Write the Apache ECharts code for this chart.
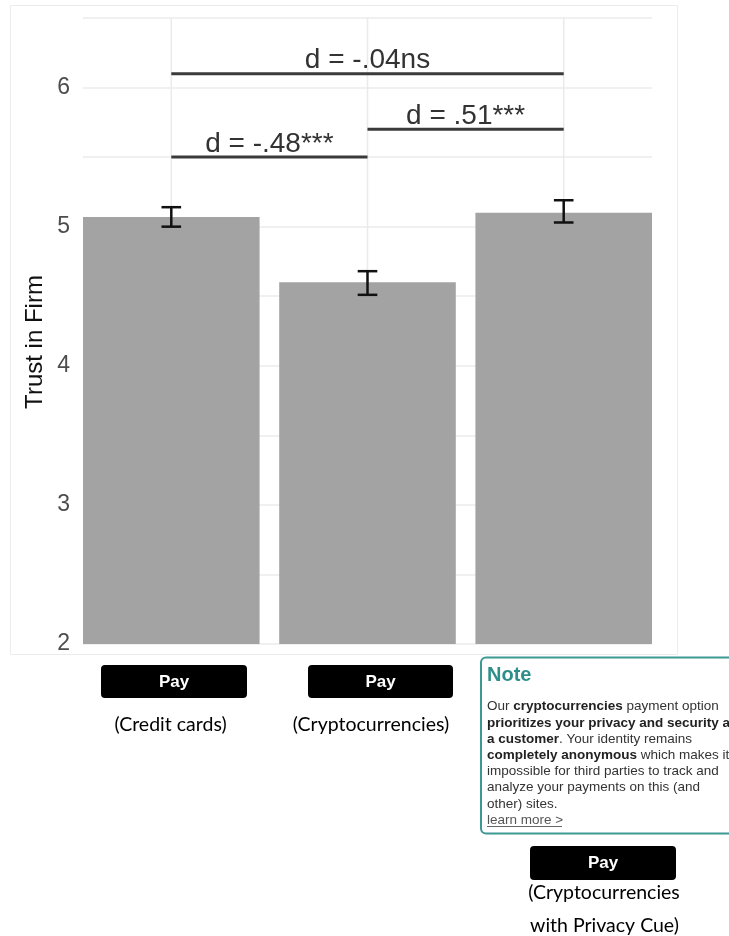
<!DOCTYPE html>
<html>
<head>
<meta charset="utf-8">
<script src="https://cdn.jsdelivr.net/npm/echarts@6/dist/echarts.min.js"></script>
<style>
  html, body { margin: 0; padding: 0; background: #ffffff; }
  #chart { width: 729px; height: 936px; }
</style>
</head>
<body>
<div id="chart"></div>
<script>
// Payment conditions (x positions 1..3 on the value axis)
const categories = ['Credit cards', 'Cryptocurrencies', 'Cryptocurrencies with Privacy Cue'];
const categoryCaptions = [['(Credit cards)'], ['(Cryptocurrencies)'], ['(Cryptocurrencies', 'with Privacy Cue)']];

// Mean trust in firm and error bar limits
const meanTrust = [5.07, 4.60, 5.10];
const errLow = [5.00, 4.51, 5.03];
const errHigh = [5.14, 4.68, 5.19];

// Y axis
const yMin = 2;
const yMax = 6.5;
const yStep = 0.5;
const yTickLabels = ['2', '3', '4', '5', '6'];

// Pairwise effect size brackets
const bracketFrom = [1, 2, 1];
const bracketTo = [2, 3, 3];
const bracketY = [5.5, 5.7, 6.1];
const bracketLabels = ['d = -.48***', 'd = .51***', 'd = -.04ns'];

const xPos = categories.map((c, i) => i + 1);
const barHalf = 0.45;
const capHalf = 0.05;
const FONT = '"Liberation Sans", Arial, Helvetica, sans-serif';
const CAPTION_FONT = 'Lato, "Open Sans", sans-serif';

const chart = echarts.init(document.getElementById('chart'), null, { renderer: 'canvas' });

const option = {
  backgroundColor: '#ffffff',
  animation: false,
  grid: { left: 83, right: 77, top: 18, bottom: 292, containLabel: false },
  xAxis: {
    type: 'value', min: 0.55, max: 3.45,
    axisLine: { show: false }, axisTick: { show: false },
    axisLabel: { show: false }, splitLine: { show: false }
  },
  yAxis: {
    type: 'value', min: yMin, max: yMax, interval: yStep,
    axisLine: { show: false }, axisTick: { show: false },
    axisLabel: {
      margin: 13, fontSize: 23, color: '#4d4d4d', fontFamily: FONT,
      formatter: v => {
        const i = yTickLabels.indexOf(String(v));
        return i >= 0 ? yTickLabels[i] : '';
      }
    },
    splitLine: { show: true, lineStyle: { color: '#ebebeb', width: 1.6 } }
  },
  series: [
    {
      // vertical grid lines at each condition
      type: 'custom', name: 'xgrid', z: 1, silent: true,
      data: xPos.map(x => [x]),
      encode: { x: 0 },
      renderItem: (params, api) => {
        const x = api.value(0);
        const top = api.coord([x, yMax]);
        const bot = api.coord([x, yMin]);
        return {
          type: 'line',
          shape: { x1: top[0], y1: top[1], x2: bot[0], y2: bot[1] },
          style: { stroke: '#ebebeb', lineWidth: 1.6 }
        };
      }
    },
    {
      type: 'custom', name: 'Trust in Firm', z: 2,
      data: xPos.map((x, i) => [x, meanTrust[i]]),
      encode: { x: 0, y: 1 },
      renderItem: (params, api) => {
        const x = api.value(0), v = api.value(1);
        const p0 = api.coord([x - barHalf, v]);
        const p1 = api.coord([x + barHalf, yMin]);
        return {
          type: 'rect',
          shape: { x: p0[0], y: p0[1], width: p1[0] - p0[0], height: p1[1] - p0[1] },
          style: { fill: '#a3a3a3' }
        };
      }
    },
    {
      type: 'custom', name: 'error', z: 3,
      data: xPos.map((x, i) => [x, errLow[i], errHigh[i]]),
      encode: { x: 0, y: [1, 2] },
      renderItem: (params, api) => {
        const x = api.value(0), lo = api.value(1), hi = api.value(2);
        const a = api.coord([x, hi]), b = api.coord([x, lo]);
        const l = api.coord([x - capHalf, hi])[0], r = api.coord([x + capHalf, hi])[0];
        const st = { stroke: '#111111', lineWidth: 2.5 };
        return {
          type: 'group',
          children: [
            { type: 'line', shape: { x1: a[0], y1: a[1], x2: b[0], y2: b[1] }, style: st },
            { type: 'line', shape: { x1: l, y1: a[1], x2: r, y2: a[1] }, style: st },
            { type: 'line', shape: { x1: l, y1: b[1], x2: r, y2: b[1] }, style: st }
          ]
        };
      }
    },
    {
      type: 'custom', name: 'brackets', z: 4, clip: false,
      data: bracketFrom.map((f, i) => [f, bracketTo[i], bracketY[i], i]),
      encode: { x: [0, 1], y: 2 },
      renderItem: (params, api) => {
        const f = api.value(0), t = api.value(1), y = api.value(2), idx = api.value(3);
        const p0 = api.coord([f, y]), p1 = api.coord([t, y]);
        return {
          type: 'group',
          children: [
            { type: 'line', shape: { x1: p0[0], y1: p0[1], x2: p1[0], y2: p1[1] },
              style: { stroke: '#3a3a3a', lineWidth: 3 } },
            { type: 'text', x: (p0[0] + p1[0]) / 2, y: p0[1] + 1,
              style: { text: bracketLabels[idx], fontSize: 28, fontFamily: FONT,
                       fill: '#333333', align: 'center', verticalAlign: 'bottom' } }
          ]
        };
      }
    }
  ],
  graphic: [
    // plot frame
    { type: 'rect', z: 0, silent: true, shape: { x: 10.5, y: 5.5, width: 667, height: 649 },
      style: { fill: 'none', stroke: '#ececec', lineWidth: 1 } },
    // y axis title
    { type: 'text', x: 35, y: 342, rotation: Math.PI / 2,
      style: { text: 'Trust in Firm', fontSize: 24, fontFamily: FONT, fill: '#111111',
               align: 'center', verticalAlign: 'middle' } },
    // Pay buttons
    { type: 'rect', shape: { x: 101, y: 665, width: 146, height: 33, r: 4 }, style: { fill: '#000000' } },
    { type: 'text', x: 174, y: 682, style: { text: 'Pay', fontSize: 17, fontWeight: 'bold', fontFamily: FONT, fill: '#ffffff', align: 'center', verticalAlign: 'middle' } },
    { type: 'rect', shape: { x: 308, y: 665, width: 145, height: 33, r: 4 }, style: { fill: '#000000' } },
    { type: 'text', x: 380.5, y: 682, style: { text: 'Pay', fontSize: 17, fontWeight: 'bold', fontFamily: FONT, fill: '#ffffff', align: 'center', verticalAlign: 'middle' } },
    { type: 'rect', shape: { x: 530, y: 846, width: 146, height: 34, r: 4 }, style: { fill: '#000000' } },
    { type: 'text', x: 603, y: 863, style: { text: 'Pay', fontSize: 17, fontWeight: 'bold', fontFamily: FONT, fill: '#ffffff', align: 'center', verticalAlign: 'middle' } },
    // condition captions
    { type: 'text', x: 170.5, y: 725, style: { text: categoryCaptions[0][0], fontSize: 19.5, fontFamily: CAPTION_FONT, fill: '#000000', align: 'center', verticalAlign: 'middle' } },
    { type: 'text', x: 371, y: 725, style: { text: categoryCaptions[1][0], fontSize: 19.5, fontFamily: CAPTION_FONT, fill: '#000000', align: 'center', verticalAlign: 'middle' } },
    { type: 'text', x: 604, y: 893, style: { text: categoryCaptions[2][0], fontSize: 19.5, fontFamily: CAPTION_FONT, fill: '#000000', align: 'center', verticalAlign: 'middle' } },
    { type: 'text', x: 604.5, y: 926, style: { text: categoryCaptions[2][1], fontSize: 19.5, fontFamily: CAPTION_FONT, fill: '#000000', align: 'center', verticalAlign: 'middle' } },
    // privacy note
    { type: 'rect', shape: { x: 481, y: 657.5, width: 270, height: 176, r: 5 },
      style: { fill: '#ffffff', stroke: '#3d9792', lineWidth: 2 } },
    { type: 'text', x: 487, y: 675, style: { text: 'Note', fontSize: 20, fontWeight: 'bold', fontFamily: FONT, fill: '#2e8f8a', align: 'left', verticalAlign: 'middle' } },
    { type: 'text', x: 487, y: 698.5,
      style: {
        text: [
          'Our {b|cryptocurrencies} payment option',
          '{b|prioritizes your privacy and security as}',
          '{b|a customer}. Your identity remains',
          '{b|completely anonymous} which makes it',
          'impossible for third parties to track and',
          'analyze your payments on this (and',
          'other) sites.',
          '{g|learn more >}'
        ].join('\n'),
        fontSize: 13.5, lineHeight: 16.2, fontFamily: FONT, fill: '#333333',
        align: 'left', verticalAlign: 'top',
        rich: {
          b: { fontSize: 13.5, lineHeight: 16.2, fontFamily: FONT, fontWeight: 'bold', fill: '#222222' },
          g: { fontSize: 13.5, lineHeight: 16.2, fontFamily: FONT, fill: '#555555' }
        }
      } },
    { type: 'line', shape: { x1: 487, y1: 826.5, x2: 562, y2: 826.5 }, style: { stroke: '#666666', lineWidth: 1 } }
  ]
};

chart.setOption(option);
</script>
</body>
</html>
